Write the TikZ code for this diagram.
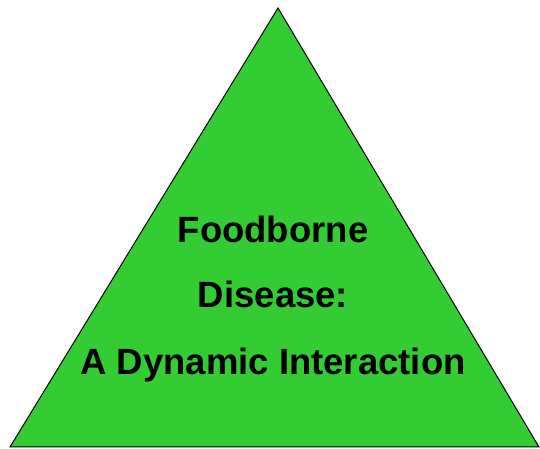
\documentclass[tikz,border=0pt]{standalone}
\usepackage{fontspec}
\setmainfont{Liberation Sans}
\usetikzlibrary{calc}
\usepackage{xcolor}
\definecolor{pyrgreen}{HTML}{33CC33}

\begin{document}
\begin{tikzpicture}[x=1pt,y=1pt,
  title/.style={font=\fontsize{36.5}{40}\selectfont\bfseries, anchor=base, inner sep=0pt}]
\useasboundingbox (0,0) rectangle (540,449);
% --- Triangle ---
\coordinate (apex) at (278,441);
\coordinate (left) at (10,2);
\coordinate (right) at (539,2);
\filldraw[fill=pyrgreen, draw=black, line width=1pt] (apex) -- (left) -- (right) -- cycle;

% --- Title, three lines ---
\node[title] (line1) at (273,206) {Foodborne};
\node[title] (line2) at (273,141) {Disease:};
\node[title] (line3) at (273,74) {A Dynamic Interaction};
\end{tikzpicture}
\end{document}
